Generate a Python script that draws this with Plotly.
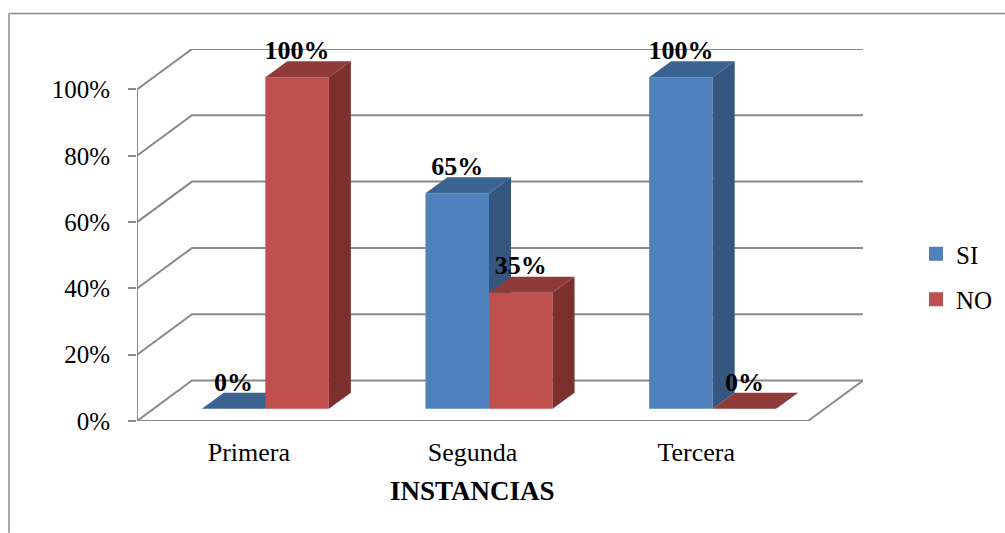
import plotly.graph_objects as go

# Chart data
categories = ["Primera", "Segunda", "Tercera"]
si_values = [0, 65, 100]
no_values = [100, 35, 0]
value_ticks = [0, 20, 40, 60, 80, 100]
value_tick_labels = ["0%", "20%", "40%", "60%", "80%", "100%"]

# Oblique projection: how far one full unit of depth shifts a point, in axis units
DEPTH_X = 0.2459
DEPTH_Y = 12.2
BAR_DEPTH_START = 0.3
BAR_DEPTH_END = 0.7
BAR_WIDTH = 0.284

SERIF = "Liberation Serif"
GRID = "#8a8a8a"

SERIES = [
    {"name": "SI", "values": si_values, "side": -1, "front": "#4F81BD", "right": "#345680", "top": "#3B6392"},
    {"name": "NO", "values": no_values, "side": 0, "front": "#C0504D", "right": "#7C2F2D", "top": "#8F3B39"},
]


def project(x, y, depth):
    return x + DEPTH_X * depth, y + DEPTH_Y * depth


fig = go.Figure()


def add_wall_line(points):
    xs, ys = zip(*points)
    fig.add_trace(go.Scatter(x=list(xs), y=list(ys), mode="lines",
                             line=dict(color=GRID, width=2), showlegend=False,
                             hoverinfo="skip", cliponaxis=False))


def add_face(points, color):
    xs, ys = zip(*points)
    fig.add_trace(go.Scatter(x=list(xs) + [xs[0]], y=list(ys) + [ys[0]], mode="lines",
                             fill="toself", fillcolor=color, line=dict(width=0),
                             showlegend=False, hoverinfo="skip", cliponaxis=False))


# Back wall, side wall and floor
n = len(categories)
for v in value_ticks:
    add_wall_line([(0, v), project(0, v, 1), project(n, v, 1)])
add_wall_line([(0, 0), (0, 100)])
add_wall_line([(0, 0), (n, 0), project(n, 0, 1)])

# Bars: front, right and top faces of each box, left series first
for i in range(n):
    for s in SERIES:
        value = s["values"][i]
        x0 = i + 0.5 + s["side"] * BAR_WIDTH
        x1 = x0 + BAR_WIDTH
        d0, d1 = BAR_DEPTH_START, BAR_DEPTH_END
        if value > 0:
            add_face([project(x0, 0, d0), project(x1, 0, d0),
                      project(x1, value, d0), project(x0, value, d0)], s["front"])
            add_face([project(x1, 0, d0), project(x1, 0, d1),
                      project(x1, value, d1), project(x1, value, d0)], s["right"])
        add_face([project(x0, value, d0), project(x1, value, d0),
                  project(x1, value, d1), project(x0, value, d1)], s["top"])

# Value labels above each box
label_x, label_y, label_text = [], [], []
for s in SERIES:
    for i, value in enumerate(s["values"]):
        x0 = i + 0.5 + s["side"] * BAR_WIDTH
        px, py = project(x0 + BAR_WIDTH / 2, value, BAR_DEPTH_START)
        label_x.append(px)
        label_y.append(py + 7.5)
        label_text.append(f"{value}%")
fig.add_trace(go.Scatter(x=label_x, y=label_y, text=label_text, mode="text",
                         textposition="middle center",
                         textfont=dict(family=SERIF, size=26, color="black", weight=700),
                         showlegend=False, hoverinfo="skip", cliponaxis=False))

# Legend entries
for s in SERIES:
    fig.add_trace(go.Scatter(x=[None], y=[None], mode="markers", name=s["name"],
                             legendgroup=s["name"],
                             marker=dict(symbol="square", size=14, color=s["front"])))

# Plot area runs from the front-left floor corner to the back-right top corner
L, R, T, B = 137, 863, 48.5, 421
W, H = 1005, 533
plot_w, plot_h = R - L, B - T


def paper_x(px):
    return (px - L) / plot_w


def paper_y(py):
    return (B - py) / plot_h


fig.update_layout(
    width=W, height=H, autosize=False,
    margin=dict(l=L, r=W - R, t=T, b=H - B, pad=0),
    paper_bgcolor="white", plot_bgcolor="white",
    font=dict(family=SERIF, size=25, color="black"),
    xaxis=dict(range=[0, n + DEPTH_X], tickmode="array", tickvals=[i + 0.5 for i in range(n)],
               ticktext=categories, ticks="", showgrid=False, zeroline=False, showline=False,
               ticklabelstandoff=13, tickfont=dict(family=SERIF, size=26)),
    yaxis=dict(range=[0, 100 + DEPTH_Y], tickmode="array", tickvals=value_ticks,
               ticktext=value_tick_labels, ticks="outside", ticklen=8, tickwidth=2, tickcolor=GRID,
               showgrid=False, zeroline=False, showline=False, ticklabelstandoff=13,
               tickfont=dict(family=SERIF, size=25)),
    legend=dict(xref="container", yref="container", x=916 / W, y=1 - 231 / H,
                xanchor="left", yanchor="top",
                font=dict(family=SERIF, size=25), tracegroupgap=10, bgcolor="rgba(0,0,0,0)"),
    shapes=[
        dict(type="line", xref="paper", yref="paper", x0=paper_x(9), x1=paper_x(9),
             y0=paper_y(13), y1=paper_y(533), line=dict(color="#8a8a8a", width=1.5)),
        dict(type="line", xref="paper", yref="paper", x0=paper_x(9), x1=paper_x(1005),
             y0=paper_y(13), y1=paper_y(13), line=dict(color="#8a8a8a", width=1.5)),
    ],
    annotations=[
        dict(text="<b>INSTANCIAS</b>", x=n / 2, xref="x", y=paper_y(491), yref="paper",
             xanchor="center", yanchor="middle", showarrow=False,
             font=dict(family=SERIF, size=27, color="black")),
    ],
)

fig.write_html("out.html")
